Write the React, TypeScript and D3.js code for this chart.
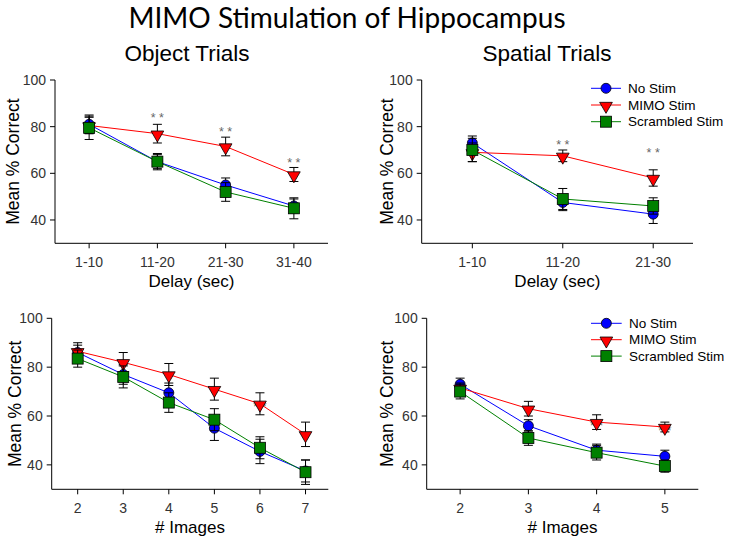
import React from "react";
import * as d3 from "d3";

// ---------- data ----------
const seriesNames = ["No Stim", "MIMO Stim", "Scrambled Stim"];
const yTicks = [40, 60, 80, 100];

// Object trials, delay
const objDelayCats = ["1-10", "11-20", "21-30", "31-40"];
const objDelayNoStim = [81, 65, 55, 46];
const objDelayNoStimErr = [4, 3, 3, 3];
const objDelayMimo = [80.5, 77, 71.5, 59.5];
const objDelayMimoErr = [3.5, 4, 4, 3];
const objDelayScr = [79.5, 65, 52, 45];
const objDelayScrErr = [5, 3.5, 4, 4.5];
const objDelayStars = [null, 85, 79, 66];

// Spatial trials, delay
const spaDelayCats = ["1-10", "11-20", "21-30"];
const spaDelayNoStim = [73, 47.5, 42.5];
const spaDelayNoStimErr = [3, 3.5, 4];
const spaDelayMimo = [69, 67.5, 58];
const spaDelayMimoErr = [4, 2.5, 3.5];
const spaDelayScr = [70, 49, 46];
const spaDelayScrErr = [5, 4.5, 3.5];
const spaDelayStars = [null, 73.6, 70.3];

// Object trials, # images
const objImgCats = ["2", "3", "4", "5", "6", "7"];
const objImgNoStim = [86, 77, 69.5, 55, 45.5, 37.5];
const objImgNoStimErr = [3, 4, 4, 5, 5, 4.5];
const objImgMimo = [86.5, 82, 77, 71, 65, 52.5];
const objImgMimoErr = [3.5, 4, 4.5, 4.5, 4.5, 5];
const objImgScr = [83.5, 76, 65.5, 58.5, 47, 37];
const objImgScrErr = [3.5, 4.5, 4, 4.5, 4.5, 5];
const objImgStars = [null, null, null, null, 65, null];

// Spatial trials, # images
const spaImgCats = ["2", "3", "4", "5"];
const spaImgNoStim = [73, 56, 46, 43.5];
const spaImgNoStimErr = [2.5, 2.5, 2.5, 2.5];
const spaImgMimo = [71.5, 63, 57.5, 55.5];
const spaImgMimoErr = [2, 3, 3, 2];
const spaImgScr = [70, 51, 45, 39.5];
const spaImgScrErr = [3, 3, 3, 2.5];
const spaImgStars = [null, null, 57.5, 55.5];

// ---------- styles ----------
const COLORS = ["#0000ff", "#ff0000", "#008000"];
const FONT = "'Liberation Sans', Arial, sans-serif";

function Marker({ kind, cx, cy, color }: { kind: number; cx: number; cy: number; color: string }) {
  if (kind === 0) {
    return <circle cx={cx} cy={cy} r={5} fill={color} stroke="#000" strokeWidth={0.8} />;
  }
  if (kind === 1) {
    const p = d3.symbol().type(d3.symbolTriangle).size(70)()!;
    return (
      <path d={p} transform={`translate(${cx},${cy + 1}) rotate(180)`} fill={color} stroke="#000" strokeWidth={0.8} />
    );
  }
  return <rect x={cx - 5.5} y={cy - 5.5} width={11} height={11} fill={color} stroke="#000" strokeWidth={0.8} />;
}

type Series = { values: number[]; errs: number[] };

function Panel(props: {
  cats: string[];
  xDomain: [number, number];
  box: { left: number; right: number; top: number; bottom: number };
  series: Series[];
  xTitle: string;
  yLabelX: number;
  showLegend: boolean;
  legendBox?: { x1: number; x2: number; tx: number; y0: number; dy: number };
  stars: (number | null)[];
  starsBehind: boolean;
}) {
  const { cats, xDomain, box, series, xTitle, yLabelX, showLegend, legendBox, stars, starsBehind } = props;
  const x = d3.scaleLinear().domain(xDomain).range([box.left, box.right]);
  const y = d3.scaleLinear().domain([30, 100]).range([box.bottom, box.top]);
  const line = d3
    .line<number>()
    .x((_, i) => x(i))
    .y((d) => y(d));
  const midY = (box.top + box.bottom) / 2;
  const order = [0, 1, 2];

  const starEls = stars.map((s, i) =>
    s == null ? null : (
      <text
        key={"st" + i}
        x={x(i)}
        y={y(s)}
        dy="0.6em"
        textAnchor="middle"
        fontSize={12.5}
        fill="#666"
        fontFamily={FONT}
      >
        * *
      </text>
    )
  );

  return (
    <g>
      {/* axes */}
      <line x1={box.left} x2={box.left} y1={box.top} y2={box.bottom} stroke="#000" strokeWidth={1} />
      <line x1={box.left} x2={box.right} y1={box.bottom} y2={box.bottom} stroke="#000" strokeWidth={1} />
      {yTicks.map((t) => (
        <g key={"yt" + t}>
          <line x1={box.left - 5} x2={box.left} y1={y(t)} y2={y(t)} stroke="#000" />
          <text
            x={box.left - 9}
            y={y(t)}
            dy="0.35em"
            textAnchor="end"
            fontSize={14}
            fill="#333"
            fontFamily={FONT}
          >
            {t}
          </text>
        </g>
      ))}
      {cats.map((c, i) => (
        <g key={"xt" + i}>
          <line x1={x(i)} x2={x(i)} y1={box.bottom} y2={box.bottom + 5} stroke="#000" />
          <text
            x={x(i)}
            y={box.bottom + 18.5}
            dy="0.35em"
            textAnchor="middle"
            fontSize={14}
            fill="#333"
            fontFamily={FONT}
          >
            {c}
          </text>
        </g>
      ))}
      <text
        x={(box.left + box.right) / 2}
        y={box.bottom + 37.5}
        dy="0.35em"
        textAnchor="middle"
        fontSize={17}
        fill="#000"
        fontFamily={FONT}
      >
        {xTitle}
      </text>
      <text
        transform={`translate(${yLabelX},${midY}) rotate(-90)`}
        dy="0.35em"
        textAnchor="middle"
        fontSize={17.5}
        fill="#000"
        fontFamily={FONT}
      >
        Mean % Correct
      </text>

      {starsBehind ? starEls : null}

      {order.map((si) => {
        const s = series[si];
        return (
          <g key={"s" + si}>
            <path d={line(s.values)!} fill="none" stroke={COLORS[si]} strokeWidth={1} />
            {s.values.map((v, i) => (
              <g key={"e" + i} stroke="#000" strokeWidth={1}>
                <line x1={x(i)} x2={x(i)} y1={y(v + s.errs[i])} y2={y(v - s.errs[i])} />
                <line x1={x(i) - 4.5} x2={x(i) + 4.5} y1={y(v + s.errs[i])} y2={y(v + s.errs[i])} />
                <line x1={x(i) - 4.5} x2={x(i) + 4.5} y1={y(v - s.errs[i])} y2={y(v - s.errs[i])} />
              </g>
            ))}
            {s.values.map((v, i) => (
              <Marker key={"m" + i} kind={si} cx={x(i)} cy={y(v)} color={COLORS[si]} />
            ))}
          </g>
        );
      })}

      {!starsBehind ? starEls : null}

      {showLegend && legendBox
        ? seriesNames.map((n, i) => {
            const ly = legendBox.y0 + i * legendBox.dy;
            return (
              <g key={"lg" + i}>
                <line x1={legendBox.x1} x2={legendBox.x2} y1={ly} y2={ly} stroke={COLORS[i]} strokeWidth={1} />
                <Marker kind={i} cx={(legendBox.x1 + legendBox.x2) / 2} cy={ly} color={COLORS[i]} />
                <text x={legendBox.tx} y={ly} dy="0.35em" fontSize={13.5} fill="#000" fontFamily={FONT}>
                  {n}
                </text>
              </g>
            );
          })
        : null}
    </g>
  );
}

export default function App() {
  const mk = (v: number[][], e: number[][]): Series[] => v.map((vals, i) => ({ values: vals, errs: e[i] }));
  return (
    <svg
      width={729}
      height={542}
      style={{ position: "absolute", left: 0, top: 0, background: "#fff" }}
    >
      <rect width={729} height={542} fill="#fff" />
      <text x={347} y={28} textAnchor="middle" fontSize={28} fontFamily="Lato, 'Open Sans', sans-serif" fill="#000">
        MIMO Stimulation of Hippocampus
      </text>
      <text x={187} y={61} textAnchor="middle" fontSize={22.5} fontFamily={FONT} fill="#000">
        Object Trials
      </text>
      <text x={547} y={61} textAnchor="middle" fontSize={22.5} fontFamily={FONT} fill="#000">
        Spatial Trials
      </text>

      <Panel
        cats={objDelayCats}
        xDomain={[-0.5, 3.5]}
        box={{ left: 55, right: 328, top: 80, bottom: 243.3 }}
        series={mk(
          [objDelayNoStim, objDelayMimo, objDelayScr],
          [objDelayNoStimErr, objDelayMimoErr, objDelayScrErr]
        )}
        xTitle="Delay (sec)"
        yLabelX={12.5}
        showLegend={false}
        stars={objDelayStars}
        starsBehind={false}
      />
      <Panel
        cats={spaDelayCats}
        xDomain={[-0.56, 2.44]}
        box={{ left: 421.7, right: 693, top: 80, bottom: 243.3 }}
        series={mk(
          [spaDelayNoStim, spaDelayMimo, spaDelayScr],
          [spaDelayNoStimErr, spaDelayMimoErr, spaDelayScrErr]
        )}
        xTitle="Delay (sec)"
        yLabelX={386.7}
        showLegend={true}
        legendBox={{ x1: 591, x2: 621, tx: 628, y0: 88.3, dy: 16.7 }}
        stars={spaDelayStars}
        starsBehind={false}
      />
      <Panel
        cats={objImgCats}
        xDomain={[-0.57, 5.5]}
        box={{ left: 51.7, right: 328.3, top: 318.3, bottom: 489.3 }}
        series={mk(
          [objImgNoStim, objImgMimo, objImgScr],
          [objImgNoStimErr, objImgMimoErr, objImgScrErr]
        )}
        xTitle="# Images"
        yLabelX={15}
        showLegend={false}
        stars={objImgStars}
        starsBehind={true}
      />
      <Panel
        cats={spaImgCats}
        xDomain={[-0.49, 3.49]}
        box={{ left: 426.7, right: 698.3, top: 318.3, bottom: 489.3 }}
        series={mk(
          [spaImgNoStim, spaImgMimo, spaImgScr],
          [spaImgNoStimErr, spaImgMimoErr, spaImgScrErr]
        )}
        xTitle="# Images"
        yLabelX={386.7}
        showLegend={true}
        legendBox={{ x1: 591, x2: 621.7, tx: 629, y0: 323.3, dy: 16.4 }}
        stars={spaImgStars}
        starsBehind={true}
      />
    </svg>
  );
}
